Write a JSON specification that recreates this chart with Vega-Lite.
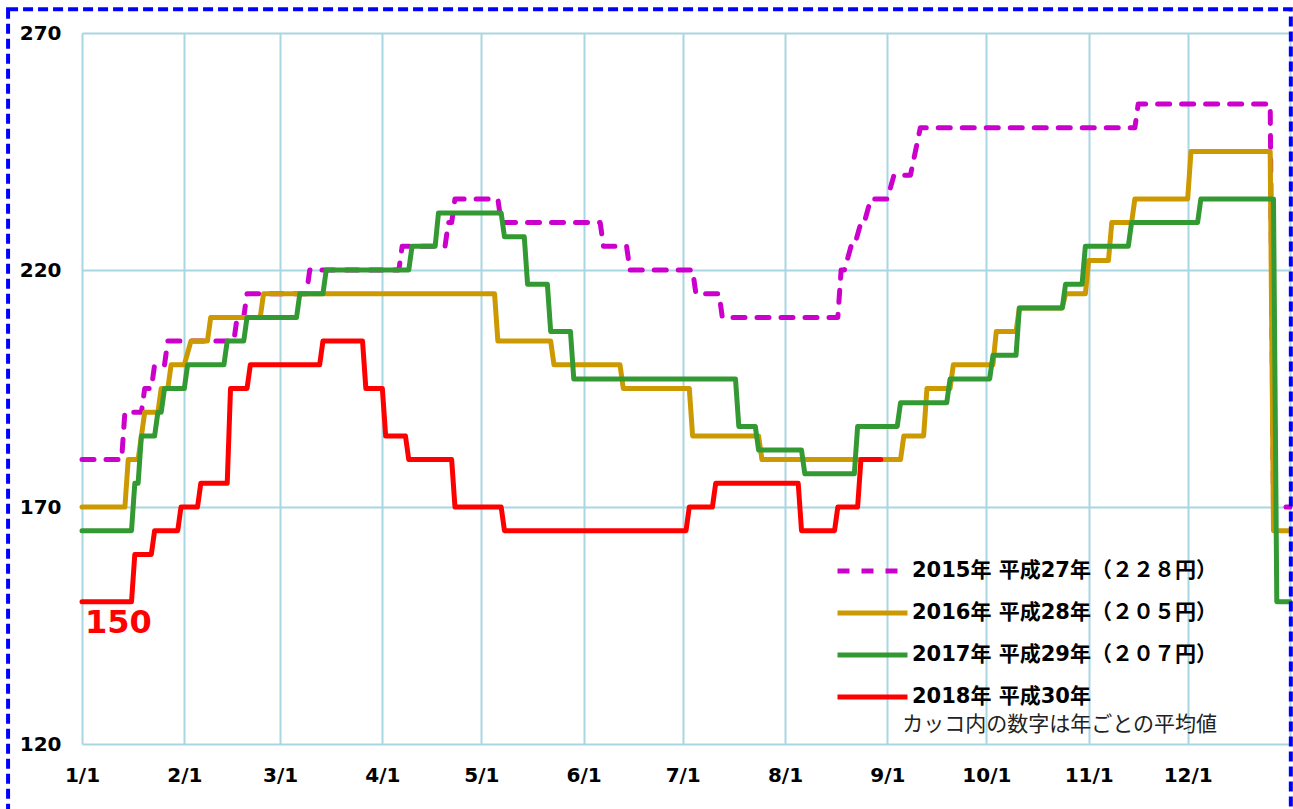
{
  "$schema": "https://vega.github.io/schema/vega-lite/v6.json",
  "width": 1208,
  "height": 711,
  "autosize": {"type": "none"},
  "padding": {"left": 82, "top": 33, "right": 3, "bottom": 65},
  "background": "white",
  "config": {"view": {"stroke": null}},
  "datasets": {
    "prices": [
      {"year": "2015", "day": 0, "price": 180}, {"year": "2015", "day": 12, "price": 180},
      {"year": "2015", "day": 13, "price": 190}, {"year": "2015", "day": 18, "price": 190},
      {"year": "2015", "day": 19, "price": 195}, {"year": "2015", "day": 21, "price": 195},
      {"year": "2015", "day": 22, "price": 200}, {"year": "2015", "day": 25, "price": 200},
      {"year": "2015", "day": 26, "price": 205}, {"year": "2015", "day": 46, "price": 205},
      {"year": "2015", "day": 47, "price": 210}, {"year": "2015", "day": 49, "price": 210},
      {"year": "2015", "day": 50, "price": 215}, {"year": "2015", "day": 68, "price": 215},
      {"year": "2015", "day": 69, "price": 220}, {"year": "2015", "day": 96, "price": 220},
      {"year": "2015", "day": 97, "price": 225}, {"year": "2015", "day": 110, "price": 225},
      {"year": "2015", "day": 111, "price": 230}, {"year": "2015", "day": 112, "price": 230},
      {"year": "2015", "day": 113, "price": 235}, {"year": "2015", "day": 126, "price": 235},
      {"year": "2015", "day": 127, "price": 230}, {"year": "2015", "day": 157, "price": 230},
      {"year": "2015", "day": 158, "price": 225}, {"year": "2015", "day": 165, "price": 225},
      {"year": "2015", "day": 166, "price": 220}, {"year": "2015", "day": 185, "price": 220},
      {"year": "2015", "day": 186, "price": 215}, {"year": "2015", "day": 193, "price": 215},
      {"year": "2015", "day": 194, "price": 210}, {"year": "2015", "day": 229, "price": 210},
      {"year": "2015", "day": 230, "price": 220}, {"year": "2015", "day": 231, "price": 220},
      {"year": "2015", "day": 233, "price": 225}, {"year": "2015", "day": 234, "price": 225},
      {"year": "2015", "day": 236, "price": 230}, {"year": "2015", "day": 237, "price": 230},
      {"year": "2015", "day": 239, "price": 235}, {"year": "2015", "day": 244, "price": 235},
      {"year": "2015", "day": 246, "price": 240}, {"year": "2015", "day": 251, "price": 240},
      {"year": "2015", "day": 254, "price": 250}, {"year": "2015", "day": 319, "price": 250},
      {"year": "2015", "day": 320, "price": 255}, {"year": "2015", "day": 360, "price": 255},
      {"year": "2015", "day": 361, "price": 170}, {"year": "2015", "day": 366, "price": 170},

      {"year": "2016", "day": 0, "price": 170}, {"year": "2016", "day": 13, "price": 170},
      {"year": "2016", "day": 14, "price": 180}, {"year": "2016", "day": 17, "price": 180},
      {"year": "2016", "day": 19, "price": 190}, {"year": "2016", "day": 23, "price": 190},
      {"year": "2016", "day": 24, "price": 195}, {"year": "2016", "day": 26, "price": 195},
      {"year": "2016", "day": 27, "price": 200}, {"year": "2016", "day": 31, "price": 200},
      {"year": "2016", "day": 33, "price": 205}, {"year": "2016", "day": 38, "price": 205},
      {"year": "2016", "day": 39, "price": 210}, {"year": "2016", "day": 54, "price": 210},
      {"year": "2016", "day": 55, "price": 215}, {"year": "2016", "day": 125, "price": 215},
      {"year": "2016", "day": 126, "price": 205}, {"year": "2016", "day": 142, "price": 205},
      {"year": "2016", "day": 143, "price": 200}, {"year": "2016", "day": 163, "price": 200},
      {"year": "2016", "day": 164, "price": 195}, {"year": "2016", "day": 184, "price": 195},
      {"year": "2016", "day": 185, "price": 185}, {"year": "2016", "day": 205, "price": 185},
      {"year": "2016", "day": 206, "price": 180}, {"year": "2016", "day": 248, "price": 180},
      {"year": "2016", "day": 249, "price": 185}, {"year": "2016", "day": 255, "price": 185},
      {"year": "2016", "day": 256, "price": 195}, {"year": "2016", "day": 263, "price": 195},
      {"year": "2016", "day": 264, "price": 200}, {"year": "2016", "day": 276, "price": 200},
      {"year": "2016", "day": 277, "price": 207}, {"year": "2016", "day": 283, "price": 207},
      {"year": "2016", "day": 284, "price": 212}, {"year": "2016", "day": 297, "price": 212},
      {"year": "2016", "day": 298, "price": 215}, {"year": "2016", "day": 304, "price": 215},
      {"year": "2016", "day": 305, "price": 222}, {"year": "2016", "day": 311, "price": 222},
      {"year": "2016", "day": 312, "price": 230}, {"year": "2016", "day": 318, "price": 230},
      {"year": "2016", "day": 319, "price": 235}, {"year": "2016", "day": 335, "price": 235},
      {"year": "2016", "day": 336, "price": 245}, {"year": "2016", "day": 360, "price": 245},
      {"year": "2016", "day": 361, "price": 165}, {"year": "2016", "day": 366, "price": 165},

      {"year": "2017", "day": 0, "price": 165}, {"year": "2017", "day": 15, "price": 165},
      {"year": "2017", "day": 16, "price": 175}, {"year": "2017", "day": 17, "price": 175},
      {"year": "2017", "day": 18, "price": 185}, {"year": "2017", "day": 22, "price": 185},
      {"year": "2017", "day": 23, "price": 190}, {"year": "2017", "day": 24, "price": 190},
      {"year": "2017", "day": 25, "price": 195}, {"year": "2017", "day": 31, "price": 195},
      {"year": "2017", "day": 32, "price": 200}, {"year": "2017", "day": 43, "price": 200},
      {"year": "2017", "day": 44, "price": 205}, {"year": "2017", "day": 49, "price": 205},
      {"year": "2017", "day": 50, "price": 210}, {"year": "2017", "day": 65, "price": 210},
      {"year": "2017", "day": 66, "price": 215}, {"year": "2017", "day": 73, "price": 215},
      {"year": "2017", "day": 74, "price": 220}, {"year": "2017", "day": 99, "price": 220},
      {"year": "2017", "day": 100, "price": 225}, {"year": "2017", "day": 107, "price": 225},
      {"year": "2017", "day": 108, "price": 232}, {"year": "2017", "day": 127, "price": 232},
      {"year": "2017", "day": 128, "price": 227}, {"year": "2017", "day": 134, "price": 227},
      {"year": "2017", "day": 135, "price": 217}, {"year": "2017", "day": 141, "price": 217},
      {"year": "2017", "day": 142, "price": 207}, {"year": "2017", "day": 148, "price": 207},
      {"year": "2017", "day": 149, "price": 197}, {"year": "2017", "day": 198, "price": 197},
      {"year": "2017", "day": 199, "price": 187}, {"year": "2017", "day": 204, "price": 187},
      {"year": "2017", "day": 205, "price": 182}, {"year": "2017", "day": 218, "price": 182},
      {"year": "2017", "day": 219, "price": 177}, {"year": "2017", "day": 234, "price": 177},
      {"year": "2017", "day": 235, "price": 187}, {"year": "2017", "day": 247, "price": 187},
      {"year": "2017", "day": 248, "price": 192}, {"year": "2017", "day": 262, "price": 192},
      {"year": "2017", "day": 263, "price": 197}, {"year": "2017", "day": 275, "price": 197},
      {"year": "2017", "day": 276, "price": 202}, {"year": "2017", "day": 283, "price": 202},
      {"year": "2017", "day": 284, "price": 212}, {"year": "2017", "day": 297, "price": 212},
      {"year": "2017", "day": 298, "price": 217}, {"year": "2017", "day": 303, "price": 217},
      {"year": "2017", "day": 304, "price": 225}, {"year": "2017", "day": 317, "price": 225},
      {"year": "2017", "day": 318, "price": 230}, {"year": "2017", "day": 338, "price": 230},
      {"year": "2017", "day": 339, "price": 235}, {"year": "2017", "day": 361, "price": 235},
      {"year": "2017", "day": 362, "price": 150}, {"year": "2017", "day": 366, "price": 150},

      {"year": "2018", "day": 0, "price": 150}, {"year": "2018", "day": 15, "price": 150},
      {"year": "2018", "day": 16, "price": 160}, {"year": "2018", "day": 21, "price": 160},
      {"year": "2018", "day": 22, "price": 165}, {"year": "2018", "day": 29, "price": 165},
      {"year": "2018", "day": 30, "price": 170}, {"year": "2018", "day": 35, "price": 170},
      {"year": "2018", "day": 36, "price": 175}, {"year": "2018", "day": 44, "price": 175},
      {"year": "2018", "day": 45, "price": 195}, {"year": "2018", "day": 50, "price": 195},
      {"year": "2018", "day": 51, "price": 200}, {"year": "2018", "day": 72, "price": 200},
      {"year": "2018", "day": 73, "price": 205}, {"year": "2018", "day": 85, "price": 205},
      {"year": "2018", "day": 86, "price": 195}, {"year": "2018", "day": 91, "price": 195},
      {"year": "2018", "day": 92, "price": 185}, {"year": "2018", "day": 98, "price": 185},
      {"year": "2018", "day": 99, "price": 180}, {"year": "2018", "day": 112, "price": 180},
      {"year": "2018", "day": 113, "price": 170}, {"year": "2018", "day": 127, "price": 170},
      {"year": "2018", "day": 128, "price": 165}, {"year": "2018", "day": 183, "price": 165},
      {"year": "2018", "day": 184, "price": 170}, {"year": "2018", "day": 191, "price": 170},
      {"year": "2018", "day": 192, "price": 175}, {"year": "2018", "day": 217, "price": 175},
      {"year": "2018", "day": 218, "price": 165}, {"year": "2018", "day": 228, "price": 165},
      {"year": "2018", "day": 229, "price": 170}, {"year": "2018", "day": 235, "price": 170},
      {"year": "2018", "day": 236, "price": 180}, {"year": "2018", "day": 242, "price": 180}
    ],
    "annotations": [
      {"day": 0, "price": 150, "label": "150"}
    ]
  },
  "layer": [
    {
      "data": {"name": "prices"},
      "mark": {"type": "line", "strokeWidth": 5, "strokeCap": "round", "strokeJoin": "round", "interpolate": "linear"},
      "encoding": {
        "x": {
          "field": "day", "type": "quantitative",
          "scale": {"domain": [0, 366], "nice": false, "zero": false},
          "axis": {
            "values": [0, 31, 60, 91, 121, 152, 182, 213, 244, 274, 305, 335, 366],
            "labelExpr": "['1/1','2/1','3/1','4/1','5/1','6/1','7/1','8/1','9/1','10/1','11/1','12/1',''][indexof([0,31,60,91,121,152,182,213,244,274,305,335,366], datum.value)]",
            "title": null, "grid": true, "gridColor": "#A8D6E3", "gridWidth": 2,
            "domain": false, "ticks": false, "labelFlush": false, "labelOverlap": false,
            "labelFont": "DejaVu Sans", "labelFontSize": 20, "labelFontWeight": "bold", "labelColor": "#000000",
            "labelPadding": 21, "zindex": 0
          }
        },
        "y": {
          "field": "price", "type": "quantitative",
          "scale": {"domain": [120, 270], "nice": false, "zero": false},
          "axis": {
            "values": [120, 170, 220, 270],
            "title": null, "grid": true, "gridColor": "#A8D6E3", "gridWidth": 2,
            "domain": false, "ticks": false, "labelFlush": false, "labelOverlap": false,
            "labelFont": "DejaVu Sans", "labelFontSize": 20, "labelFontWeight": "bold", "labelColor": "#000000",
            "labelPadding": 21, "zindex": 0
          }
        },
        "color": {
          "field": "year", "type": "nominal",
          "scale": {"domain": ["2015", "2016", "2017", "2018"], "range": ["#CC00CC", "#CC9900", "#339933", "#FF0000"]},
          "legend": {
            "title": "カッコ内の数字は年ごとの平均値",
            "orient": "none", "legendX": 753, "legendY": 528, "direction": "vertical", "padding": 0,
            "titleOrient": "bottom", "titleAnchor": "end", "titleFont": "Noto Sans CJK JP", "titleFontSize": 21,
            "titleFontWeight": "normal", "titleColor": "#222222", "titlePadding": 7, "titleLimit": 0,
            "labelExpr": "datum.label == '2015' ? '2015年 平成27年（２２８円）' : datum.label == '2016' ? '2016年 平成28年（２０５円）' : datum.label == '2017' ? '2017年 平成29年（２０７円）' : '2018年 平成30年'",
            "labelFont": "DejaVu Sans, Noto Sans CJK JP", "labelFontSize": 21, "labelFontWeight": "bold", "labelColor": "#000000",
            "labelLimit": 0, "labelOffset": 2,
            "symbolType": "stroke", "symbolSize": 4900, "symbolStrokeWidth": 5, "clipHeight": 20, "rowPadding": 21
          }
        },
        "strokeDash": {
          "field": "year", "type": "nominal",
          "scale": {"domain": ["2015", "2016", "2017", "2018"], "range": [[12, 12], [1, 0], [1, 0], [1, 0]]},
          "legend": {
            "title": "カッコ内の数字は年ごとの平均値",
            "orient": "none", "legendX": 753, "legendY": 528, "direction": "vertical", "padding": 0,
            "titleOrient": "bottom", "titleAnchor": "end", "titleFont": "Noto Sans CJK JP", "titleFontSize": 21,
            "titleFontWeight": "normal", "titleColor": "#222222", "titlePadding": 7, "titleLimit": 0,
            "labelExpr": "datum.label == '2015' ? '2015年 平成27年（２２８円）' : datum.label == '2016' ? '2016年 平成28年（２０５円）' : datum.label == '2017' ? '2017年 平成29年（２０７円）' : '2018年 平成30年'",
            "labelFont": "DejaVu Sans, Noto Sans CJK JP", "labelFontSize": 21, "labelFontWeight": "bold", "labelColor": "#000000",
            "labelLimit": 0, "labelOffset": 2,
            "symbolType": "stroke", "symbolSize": 4900, "symbolStrokeWidth": 5, "clipHeight": 20, "rowPadding": 21
          }
        },
        "order": {"field": "day", "type": "quantitative"}
      }
    },
    {
      "data": {"name": "annotations"},
      "mark": {"type": "text", "align": "left", "baseline": "alphabetic", "dx": 3, "dy": 31, "font": "DejaVu Sans", "fontSize": 32, "fontWeight": "bold", "color": "#FF0000"},
      "encoding": {
        "x": {"field": "day", "type": "quantitative", "scale": {"domain": [0, 366], "nice": false, "zero": false}},
        "y": {"field": "price", "type": "quantitative", "scale": {"domain": [120, 270], "nice": false, "zero": false}},
        "text": {"field": "label"}
      }
    },
    {
      "data": {"values": [{}]},
      "mark": {"type": "rect", "fillOpacity": 0, "stroke": "#0000FF", "strokeWidth": 4, "strokeDash": [10, 5]},
      "encoding": {
        "x": {"datum": -22.4, "type": "quantitative", "scale": {"domain": [0, 366], "nice": false, "zero": false}},
        "x2": {"datum": 366.25},
        "y": {"datum": 275, "type": "quantitative", "scale": {"domain": [120, 270], "nice": false, "zero": false}},
        "y2": {"datum": 100}
      }
    }
  ]
}
